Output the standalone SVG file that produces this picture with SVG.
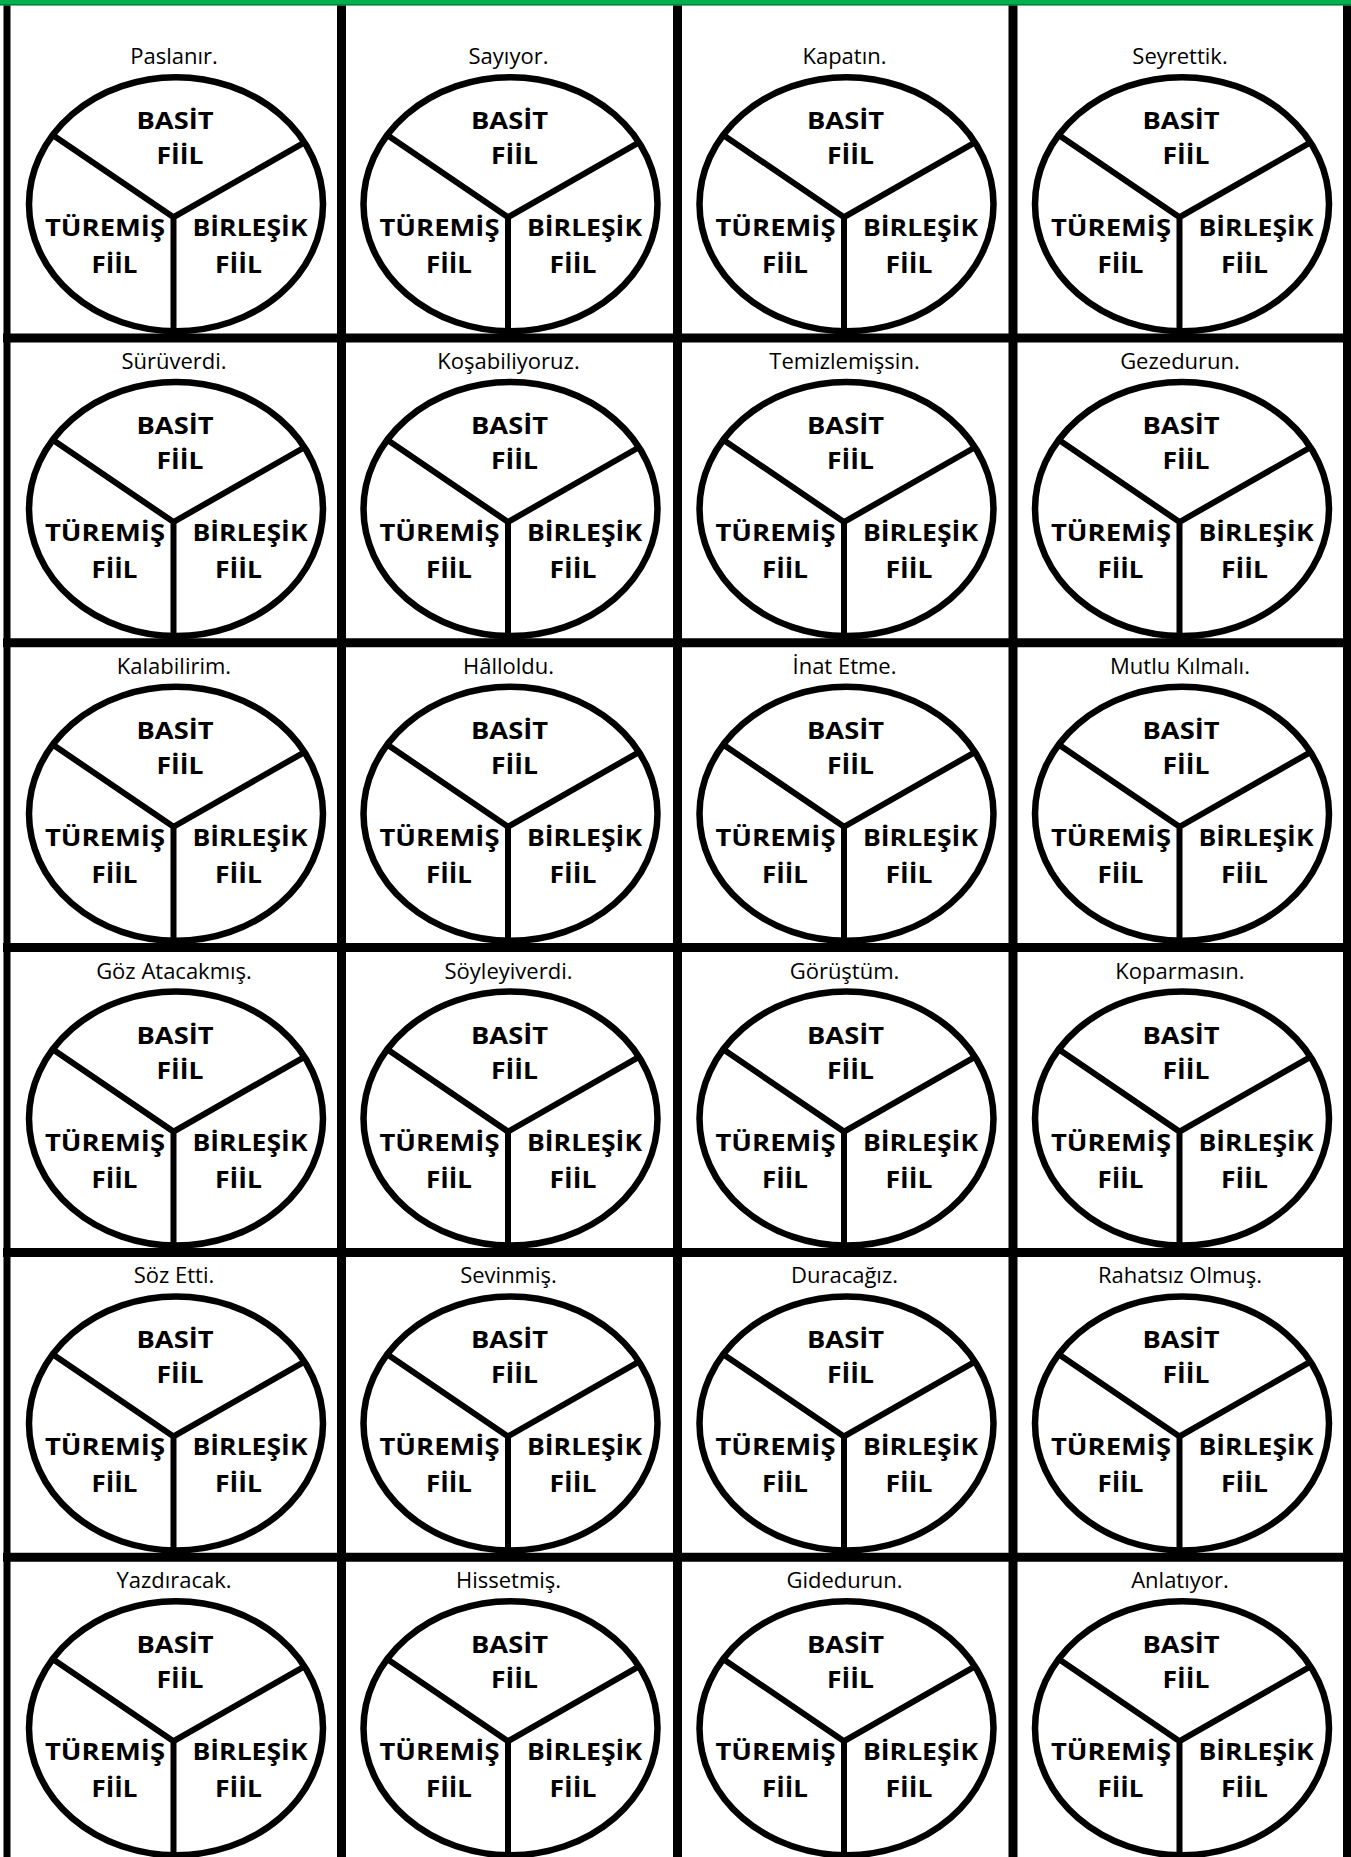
<svg xmlns="http://www.w3.org/2000/svg" width="1351" height="1857" viewBox="0 0 1351 1857">
<style>
.t{font-family:"Open Sans","Liberation Sans",sans-serif;font-size:22px;text-anchor:middle;fill:#000}
.b{font-family:"Open Sans","Liberation Sans",sans-serif;font-size:23.4px;font-weight:700;text-anchor:middle;fill:#000}
.e{fill:#fff;stroke:#000;stroke-width:6.5}
.s{fill:none;stroke:#000;stroke-width:6;stroke-linejoin:miter}
.g{stroke:#000;stroke-width:9;fill:none}
</style>
<rect x="0" y="0" width="1351" height="1857" fill="#fff"/>
<rect x="0" y="0" width="1351" height="5" fill="#00B050"/>
<line x1="0" y1="5" x2="1351" y2="5" stroke="#1d4a26" stroke-width="1.2"/>

<g id="c00" transform="translate(7,33.2)"><text class="t" x="167" y="31">Paslanır.</text><ellipse class="e" cx="169" cy="171" rx="147" ry="127"/><path class="s" d="M46,102L166.5,184L298,109M166.5,184V302"/><text class="b" x="168" y="96" textLength="77" lengthAdjust="spacingAndGlyphs">BASİT</text><text class="b" x="173" y="131" textLength="47" lengthAdjust="spacingAndGlyphs">FİİL</text><text class="b" x="98" y="203" textLength="120" lengthAdjust="spacingAndGlyphs">TÜREMİŞ</text><text class="b" x="107.5" y="240" textLength="46" lengthAdjust="spacingAndGlyphs">FİİL</text><text class="b" x="243" y="203" textLength="115" lengthAdjust="spacingAndGlyphs">BİRLEŞİK</text><text class="b" x="231.5" y="240" textLength="47" lengthAdjust="spacingAndGlyphs">FİİL</text></g>
<g id="c01" transform="translate(341.5,33.2)"><text class="t" x="167" y="31">Sayıyor.</text><ellipse class="e" cx="169" cy="171" rx="147" ry="127"/><path class="s" d="M46,102L166.5,184L298,109M166.5,184V302"/><text class="b" x="168" y="96" textLength="77" lengthAdjust="spacingAndGlyphs">BASİT</text><text class="b" x="173" y="131" textLength="47" lengthAdjust="spacingAndGlyphs">FİİL</text><text class="b" x="98" y="203" textLength="120" lengthAdjust="spacingAndGlyphs">TÜREMİŞ</text><text class="b" x="107.5" y="240" textLength="46" lengthAdjust="spacingAndGlyphs">FİİL</text><text class="b" x="243" y="203" textLength="115" lengthAdjust="spacingAndGlyphs">BİRLEŞİK</text><text class="b" x="231.5" y="240" textLength="47" lengthAdjust="spacingAndGlyphs">FİİL</text></g>
<g id="c02" transform="translate(677.5,33.2)"><text class="t" x="167" y="31">Kapatın.</text><ellipse class="e" cx="169" cy="171" rx="147" ry="127"/><path class="s" d="M46,102L166.5,184L298,109M166.5,184V302"/><text class="b" x="168" y="96" textLength="77" lengthAdjust="spacingAndGlyphs">BASİT</text><text class="b" x="173" y="131" textLength="47" lengthAdjust="spacingAndGlyphs">FİİL</text><text class="b" x="98" y="203" textLength="120" lengthAdjust="spacingAndGlyphs">TÜREMİŞ</text><text class="b" x="107.5" y="240" textLength="46" lengthAdjust="spacingAndGlyphs">FİİL</text><text class="b" x="243" y="203" textLength="115" lengthAdjust="spacingAndGlyphs">BİRLEŞİK</text><text class="b" x="231.5" y="240" textLength="47" lengthAdjust="spacingAndGlyphs">FİİL</text></g>
<g id="c03" transform="translate(1013,33.2)"><text class="t" x="167" y="31">Seyrettik.</text><ellipse class="e" cx="169" cy="171" rx="147" ry="127"/><path class="s" d="M46,102L166.5,184L298,109M166.5,184V302"/><text class="b" x="168" y="96" textLength="77" lengthAdjust="spacingAndGlyphs">BASİT</text><text class="b" x="173" y="131" textLength="47" lengthAdjust="spacingAndGlyphs">FİİL</text><text class="b" x="98" y="203" textLength="120" lengthAdjust="spacingAndGlyphs">TÜREMİŞ</text><text class="b" x="107.5" y="240" textLength="46" lengthAdjust="spacingAndGlyphs">FİİL</text><text class="b" x="243" y="203" textLength="115" lengthAdjust="spacingAndGlyphs">BİRLEŞİK</text><text class="b" x="231.5" y="240" textLength="47" lengthAdjust="spacingAndGlyphs">FİİL</text></g>

<g id="c10" transform="translate(7,338)"><text class="t" x="167" y="31">Sürüverdi.</text><ellipse class="e" cx="169" cy="171" rx="147" ry="127"/><path class="s" d="M46,102L166.5,184L298,109M166.5,184V302"/><text class="b" x="168" y="96" textLength="77" lengthAdjust="spacingAndGlyphs">BASİT</text><text class="b" x="173" y="131" textLength="47" lengthAdjust="spacingAndGlyphs">FİİL</text><text class="b" x="98" y="203" textLength="120" lengthAdjust="spacingAndGlyphs">TÜREMİŞ</text><text class="b" x="107.5" y="240" textLength="46" lengthAdjust="spacingAndGlyphs">FİİL</text><text class="b" x="243" y="203" textLength="115" lengthAdjust="spacingAndGlyphs">BİRLEŞİK</text><text class="b" x="231.5" y="240" textLength="47" lengthAdjust="spacingAndGlyphs">FİİL</text></g>
<g id="c11" transform="translate(341.5,338)"><text class="t" x="167" y="31">Koşabiliyoruz.</text><ellipse class="e" cx="169" cy="171" rx="147" ry="127"/><path class="s" d="M46,102L166.5,184L298,109M166.5,184V302"/><text class="b" x="168" y="96" textLength="77" lengthAdjust="spacingAndGlyphs">BASİT</text><text class="b" x="173" y="131" textLength="47" lengthAdjust="spacingAndGlyphs">FİİL</text><text class="b" x="98" y="203" textLength="120" lengthAdjust="spacingAndGlyphs">TÜREMİŞ</text><text class="b" x="107.5" y="240" textLength="46" lengthAdjust="spacingAndGlyphs">FİİL</text><text class="b" x="243" y="203" textLength="115" lengthAdjust="spacingAndGlyphs">BİRLEŞİK</text><text class="b" x="231.5" y="240" textLength="47" lengthAdjust="spacingAndGlyphs">FİİL</text></g>
<g id="c12" transform="translate(677.5,338)"><text class="t" x="167" y="31">Temizlemişsin.</text><ellipse class="e" cx="169" cy="171" rx="147" ry="127"/><path class="s" d="M46,102L166.5,184L298,109M166.5,184V302"/><text class="b" x="168" y="96" textLength="77" lengthAdjust="spacingAndGlyphs">BASİT</text><text class="b" x="173" y="131" textLength="47" lengthAdjust="spacingAndGlyphs">FİİL</text><text class="b" x="98" y="203" textLength="120" lengthAdjust="spacingAndGlyphs">TÜREMİŞ</text><text class="b" x="107.5" y="240" textLength="46" lengthAdjust="spacingAndGlyphs">FİİL</text><text class="b" x="243" y="203" textLength="115" lengthAdjust="spacingAndGlyphs">BİRLEŞİK</text><text class="b" x="231.5" y="240" textLength="47" lengthAdjust="spacingAndGlyphs">FİİL</text></g>
<g id="c13" transform="translate(1013,338)"><text class="t" x="167" y="31">Gezedurun.</text><ellipse class="e" cx="169" cy="171" rx="147" ry="127"/><path class="s" d="M46,102L166.5,184L298,109M166.5,184V302"/><text class="b" x="168" y="96" textLength="77" lengthAdjust="spacingAndGlyphs">BASİT</text><text class="b" x="173" y="131" textLength="47" lengthAdjust="spacingAndGlyphs">FİİL</text><text class="b" x="98" y="203" textLength="120" lengthAdjust="spacingAndGlyphs">TÜREMİŞ</text><text class="b" x="107.5" y="240" textLength="46" lengthAdjust="spacingAndGlyphs">FİİL</text><text class="b" x="243" y="203" textLength="115" lengthAdjust="spacingAndGlyphs">BİRLEŞİK</text><text class="b" x="231.5" y="240" textLength="47" lengthAdjust="spacingAndGlyphs">FİİL</text></g>

<g id="c20" transform="translate(7,642.8)"><text class="t" x="167" y="31">Kalabilirim.</text><ellipse class="e" cx="169" cy="171" rx="147" ry="127"/><path class="s" d="M46,102L166.5,184L298,109M166.5,184V302"/><text class="b" x="168" y="96" textLength="77" lengthAdjust="spacingAndGlyphs">BASİT</text><text class="b" x="173" y="131" textLength="47" lengthAdjust="spacingAndGlyphs">FİİL</text><text class="b" x="98" y="203" textLength="120" lengthAdjust="spacingAndGlyphs">TÜREMİŞ</text><text class="b" x="107.5" y="240" textLength="46" lengthAdjust="spacingAndGlyphs">FİİL</text><text class="b" x="243" y="203" textLength="115" lengthAdjust="spacingAndGlyphs">BİRLEŞİK</text><text class="b" x="231.5" y="240" textLength="47" lengthAdjust="spacingAndGlyphs">FİİL</text></g>
<g id="c21" transform="translate(341.5,642.8)"><text class="t" x="167" y="31">Hâlloldu.</text><ellipse class="e" cx="169" cy="171" rx="147" ry="127"/><path class="s" d="M46,102L166.5,184L298,109M166.5,184V302"/><text class="b" x="168" y="96" textLength="77" lengthAdjust="spacingAndGlyphs">BASİT</text><text class="b" x="173" y="131" textLength="47" lengthAdjust="spacingAndGlyphs">FİİL</text><text class="b" x="98" y="203" textLength="120" lengthAdjust="spacingAndGlyphs">TÜREMİŞ</text><text class="b" x="107.5" y="240" textLength="46" lengthAdjust="spacingAndGlyphs">FİİL</text><text class="b" x="243" y="203" textLength="115" lengthAdjust="spacingAndGlyphs">BİRLEŞİK</text><text class="b" x="231.5" y="240" textLength="47" lengthAdjust="spacingAndGlyphs">FİİL</text></g>
<g id="c22" transform="translate(677.5,642.8)"><text class="t" x="167" y="31">İnat Etme.</text><ellipse class="e" cx="169" cy="171" rx="147" ry="127"/><path class="s" d="M46,102L166.5,184L298,109M166.5,184V302"/><text class="b" x="168" y="96" textLength="77" lengthAdjust="spacingAndGlyphs">BASİT</text><text class="b" x="173" y="131" textLength="47" lengthAdjust="spacingAndGlyphs">FİİL</text><text class="b" x="98" y="203" textLength="120" lengthAdjust="spacingAndGlyphs">TÜREMİŞ</text><text class="b" x="107.5" y="240" textLength="46" lengthAdjust="spacingAndGlyphs">FİİL</text><text class="b" x="243" y="203" textLength="115" lengthAdjust="spacingAndGlyphs">BİRLEŞİK</text><text class="b" x="231.5" y="240" textLength="47" lengthAdjust="spacingAndGlyphs">FİİL</text></g>
<g id="c23" transform="translate(1013,642.8)"><text class="t" x="167" y="31">Mutlu Kılmalı.</text><ellipse class="e" cx="169" cy="171" rx="147" ry="127"/><path class="s" d="M46,102L166.5,184L298,109M166.5,184V302"/><text class="b" x="168" y="96" textLength="77" lengthAdjust="spacingAndGlyphs">BASİT</text><text class="b" x="173" y="131" textLength="47" lengthAdjust="spacingAndGlyphs">FİİL</text><text class="b" x="98" y="203" textLength="120" lengthAdjust="spacingAndGlyphs">TÜREMİŞ</text><text class="b" x="107.5" y="240" textLength="46" lengthAdjust="spacingAndGlyphs">FİİL</text><text class="b" x="243" y="203" textLength="115" lengthAdjust="spacingAndGlyphs">BİRLEŞİK</text><text class="b" x="231.5" y="240" textLength="47" lengthAdjust="spacingAndGlyphs">FİİL</text></g>

<g id="c30" transform="translate(7,947.6)"><text class="t" x="167" y="31">Göz Atacakmış.</text><ellipse class="e" cx="169" cy="171" rx="147" ry="127"/><path class="s" d="M46,102L166.5,184L298,109M166.5,184V302"/><text class="b" x="168" y="96" textLength="77" lengthAdjust="spacingAndGlyphs">BASİT</text><text class="b" x="173" y="131" textLength="47" lengthAdjust="spacingAndGlyphs">FİİL</text><text class="b" x="98" y="203" textLength="120" lengthAdjust="spacingAndGlyphs">TÜREMİŞ</text><text class="b" x="107.5" y="240" textLength="46" lengthAdjust="spacingAndGlyphs">FİİL</text><text class="b" x="243" y="203" textLength="115" lengthAdjust="spacingAndGlyphs">BİRLEŞİK</text><text class="b" x="231.5" y="240" textLength="47" lengthAdjust="spacingAndGlyphs">FİİL</text></g>
<g id="c31" transform="translate(341.5,947.6)"><text class="t" x="167" y="31">Söyleyiverdi.</text><ellipse class="e" cx="169" cy="171" rx="147" ry="127"/><path class="s" d="M46,102L166.5,184L298,109M166.5,184V302"/><text class="b" x="168" y="96" textLength="77" lengthAdjust="spacingAndGlyphs">BASİT</text><text class="b" x="173" y="131" textLength="47" lengthAdjust="spacingAndGlyphs">FİİL</text><text class="b" x="98" y="203" textLength="120" lengthAdjust="spacingAndGlyphs">TÜREMİŞ</text><text class="b" x="107.5" y="240" textLength="46" lengthAdjust="spacingAndGlyphs">FİİL</text><text class="b" x="243" y="203" textLength="115" lengthAdjust="spacingAndGlyphs">BİRLEŞİK</text><text class="b" x="231.5" y="240" textLength="47" lengthAdjust="spacingAndGlyphs">FİİL</text></g>
<g id="c32" transform="translate(677.5,947.6)"><text class="t" x="167" y="31">Görüştüm.</text><ellipse class="e" cx="169" cy="171" rx="147" ry="127"/><path class="s" d="M46,102L166.5,184L298,109M166.5,184V302"/><text class="b" x="168" y="96" textLength="77" lengthAdjust="spacingAndGlyphs">BASİT</text><text class="b" x="173" y="131" textLength="47" lengthAdjust="spacingAndGlyphs">FİİL</text><text class="b" x="98" y="203" textLength="120" lengthAdjust="spacingAndGlyphs">TÜREMİŞ</text><text class="b" x="107.5" y="240" textLength="46" lengthAdjust="spacingAndGlyphs">FİİL</text><text class="b" x="243" y="203" textLength="115" lengthAdjust="spacingAndGlyphs">BİRLEŞİK</text><text class="b" x="231.5" y="240" textLength="47" lengthAdjust="spacingAndGlyphs">FİİL</text></g>
<g id="c33" transform="translate(1013,947.6)"><text class="t" x="167" y="31">Koparmasın.</text><ellipse class="e" cx="169" cy="171" rx="147" ry="127"/><path class="s" d="M46,102L166.5,184L298,109M166.5,184V302"/><text class="b" x="168" y="96" textLength="77" lengthAdjust="spacingAndGlyphs">BASİT</text><text class="b" x="173" y="131" textLength="47" lengthAdjust="spacingAndGlyphs">FİİL</text><text class="b" x="98" y="203" textLength="120" lengthAdjust="spacingAndGlyphs">TÜREMİŞ</text><text class="b" x="107.5" y="240" textLength="46" lengthAdjust="spacingAndGlyphs">FİİL</text><text class="b" x="243" y="203" textLength="115" lengthAdjust="spacingAndGlyphs">BİRLEŞİK</text><text class="b" x="231.5" y="240" textLength="47" lengthAdjust="spacingAndGlyphs">FİİL</text></g>

<g id="c40" transform="translate(7,1252.4)"><text class="t" x="167" y="31">Söz Etti.</text><ellipse class="e" cx="169" cy="171" rx="147" ry="127"/><path class="s" d="M46,102L166.5,184L298,109M166.5,184V302"/><text class="b" x="168" y="96" textLength="77" lengthAdjust="spacingAndGlyphs">BASİT</text><text class="b" x="173" y="131" textLength="47" lengthAdjust="spacingAndGlyphs">FİİL</text><text class="b" x="98" y="203" textLength="120" lengthAdjust="spacingAndGlyphs">TÜREMİŞ</text><text class="b" x="107.5" y="240" textLength="46" lengthAdjust="spacingAndGlyphs">FİİL</text><text class="b" x="243" y="203" textLength="115" lengthAdjust="spacingAndGlyphs">BİRLEŞİK</text><text class="b" x="231.5" y="240" textLength="47" lengthAdjust="spacingAndGlyphs">FİİL</text></g>
<g id="c41" transform="translate(341.5,1252.4)"><text class="t" x="167" y="31">Sevinmiş.</text><ellipse class="e" cx="169" cy="171" rx="147" ry="127"/><path class="s" d="M46,102L166.5,184L298,109M166.5,184V302"/><text class="b" x="168" y="96" textLength="77" lengthAdjust="spacingAndGlyphs">BASİT</text><text class="b" x="173" y="131" textLength="47" lengthAdjust="spacingAndGlyphs">FİİL</text><text class="b" x="98" y="203" textLength="120" lengthAdjust="spacingAndGlyphs">TÜREMİŞ</text><text class="b" x="107.5" y="240" textLength="46" lengthAdjust="spacingAndGlyphs">FİİL</text><text class="b" x="243" y="203" textLength="115" lengthAdjust="spacingAndGlyphs">BİRLEŞİK</text><text class="b" x="231.5" y="240" textLength="47" lengthAdjust="spacingAndGlyphs">FİİL</text></g>
<g id="c42" transform="translate(677.5,1252.4)"><text class="t" x="167" y="31">Duracağız.</text><ellipse class="e" cx="169" cy="171" rx="147" ry="127"/><path class="s" d="M46,102L166.5,184L298,109M166.5,184V302"/><text class="b" x="168" y="96" textLength="77" lengthAdjust="spacingAndGlyphs">BASİT</text><text class="b" x="173" y="131" textLength="47" lengthAdjust="spacingAndGlyphs">FİİL</text><text class="b" x="98" y="203" textLength="120" lengthAdjust="spacingAndGlyphs">TÜREMİŞ</text><text class="b" x="107.5" y="240" textLength="46" lengthAdjust="spacingAndGlyphs">FİİL</text><text class="b" x="243" y="203" textLength="115" lengthAdjust="spacingAndGlyphs">BİRLEŞİK</text><text class="b" x="231.5" y="240" textLength="47" lengthAdjust="spacingAndGlyphs">FİİL</text></g>
<g id="c43" transform="translate(1013,1252.4)"><text class="t" x="167" y="31">Rahatsız Olmuş.</text><ellipse class="e" cx="169" cy="171" rx="147" ry="127"/><path class="s" d="M46,102L166.5,184L298,109M166.5,184V302"/><text class="b" x="168" y="96" textLength="77" lengthAdjust="spacingAndGlyphs">BASİT</text><text class="b" x="173" y="131" textLength="47" lengthAdjust="spacingAndGlyphs">FİİL</text><text class="b" x="98" y="203" textLength="120" lengthAdjust="spacingAndGlyphs">TÜREMİŞ</text><text class="b" x="107.5" y="240" textLength="46" lengthAdjust="spacingAndGlyphs">FİİL</text><text class="b" x="243" y="203" textLength="115" lengthAdjust="spacingAndGlyphs">BİRLEŞİK</text><text class="b" x="231.5" y="240" textLength="47" lengthAdjust="spacingAndGlyphs">FİİL</text></g>

<g id="c50" transform="translate(7,1557.2)"><text class="t" x="167" y="31">Yazdıracak.</text><ellipse class="e" cx="169" cy="171" rx="147" ry="127"/><path class="s" d="M46,102L166.5,184L298,109M166.5,184V302"/><text class="b" x="168" y="96" textLength="77" lengthAdjust="spacingAndGlyphs">BASİT</text><text class="b" x="173" y="131" textLength="47" lengthAdjust="spacingAndGlyphs">FİİL</text><text class="b" x="98" y="203" textLength="120" lengthAdjust="spacingAndGlyphs">TÜREMİŞ</text><text class="b" x="107.5" y="240" textLength="46" lengthAdjust="spacingAndGlyphs">FİİL</text><text class="b" x="243" y="203" textLength="115" lengthAdjust="spacingAndGlyphs">BİRLEŞİK</text><text class="b" x="231.5" y="240" textLength="47" lengthAdjust="spacingAndGlyphs">FİİL</text></g>
<g id="c51" transform="translate(341.5,1557.2)"><text class="t" x="167" y="31">Hissetmiş.</text><ellipse class="e" cx="169" cy="171" rx="147" ry="127"/><path class="s" d="M46,102L166.5,184L298,109M166.5,184V302"/><text class="b" x="168" y="96" textLength="77" lengthAdjust="spacingAndGlyphs">BASİT</text><text class="b" x="173" y="131" textLength="47" lengthAdjust="spacingAndGlyphs">FİİL</text><text class="b" x="98" y="203" textLength="120" lengthAdjust="spacingAndGlyphs">TÜREMİŞ</text><text class="b" x="107.5" y="240" textLength="46" lengthAdjust="spacingAndGlyphs">FİİL</text><text class="b" x="243" y="203" textLength="115" lengthAdjust="spacingAndGlyphs">BİRLEŞİK</text><text class="b" x="231.5" y="240" textLength="47" lengthAdjust="spacingAndGlyphs">FİİL</text></g>
<g id="c52" transform="translate(677.5,1557.2)"><text class="t" x="167" y="31">Gidedurun.</text><ellipse class="e" cx="169" cy="171" rx="147" ry="127"/><path class="s" d="M46,102L166.5,184L298,109M166.5,184V302"/><text class="b" x="168" y="96" textLength="77" lengthAdjust="spacingAndGlyphs">BASİT</text><text class="b" x="173" y="131" textLength="47" lengthAdjust="spacingAndGlyphs">FİİL</text><text class="b" x="98" y="203" textLength="120" lengthAdjust="spacingAndGlyphs">TÜREMİŞ</text><text class="b" x="107.5" y="240" textLength="46" lengthAdjust="spacingAndGlyphs">FİİL</text><text class="b" x="243" y="203" textLength="115" lengthAdjust="spacingAndGlyphs">BİRLEŞİK</text><text class="b" x="231.5" y="240" textLength="47" lengthAdjust="spacingAndGlyphs">FİİL</text></g>
<g id="c53" transform="translate(1013,1557.2)"><text class="t" x="167" y="31">Anlatıyor.</text><ellipse class="e" cx="169" cy="171" rx="147" ry="127"/><path class="s" d="M46,102L166.5,184L298,109M166.5,184V302"/><text class="b" x="168" y="96" textLength="77" lengthAdjust="spacingAndGlyphs">BASİT</text><text class="b" x="173" y="131" textLength="47" lengthAdjust="spacingAndGlyphs">FİİL</text><text class="b" x="98" y="203" textLength="120" lengthAdjust="spacingAndGlyphs">TÜREMİŞ</text><text class="b" x="107.5" y="240" textLength="46" lengthAdjust="spacingAndGlyphs">FİİL</text><text class="b" x="243" y="203" textLength="115" lengthAdjust="spacingAndGlyphs">BİRLEŞİK</text><text class="b" x="231.5" y="240" textLength="47" lengthAdjust="spacingAndGlyphs">FİİL</text></g>

<g id="grid">
<line class="g" x1="7" y1="5.6" x2="7" y2="1857" style="stroke-width:7"/>
<line class="g" x1="341.5" y1="5.6" x2="341.5" y2="1857"/>
<line class="g" x1="677.5" y1="5.6" x2="677.5" y2="1857"/>
<line class="g" x1="1013" y1="5.6" x2="1013" y2="1857"/>
<line class="g" x1="1347" y1="5.6" x2="1347" y2="1857" style="stroke-width:8"/>
<line class="g" x1="3" y1="338" x2="1351" y2="338"/>
<line class="g" x1="3" y1="642.8" x2="1351" y2="642.8"/>
<line class="g" x1="3" y1="947.6" x2="1351" y2="947.6"/>
<line class="g" x1="3" y1="1252.4" x2="1351" y2="1252.4"/>
<line class="g" x1="3" y1="1557.2" x2="1351" y2="1557.2"/>
</g>
</svg>
